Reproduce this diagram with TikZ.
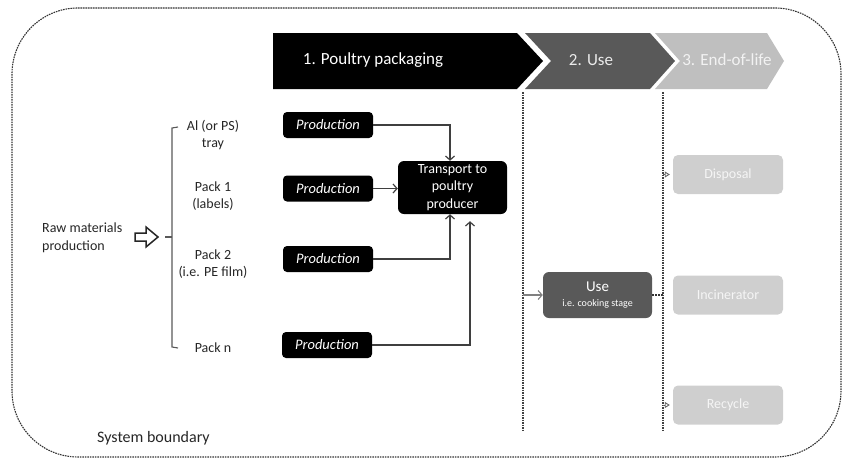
\documentclass[tikz,border=0pt]{standalone}
\usepackage{fontspec}
\setmainfont{Carlito}
\usetikzlibrary{arrows.meta}
\definecolor{dgray}{HTML}{595959}
\definecolor{lgray}{HTML}{BFBFBF}
\definecolor{bgray}{HTML}{CFCFCF}
\definecolor{lnc}{HTML}{3F3F3F}
\begin{document}
\begin{tikzpicture}[x=1pt,y=-1pt,
  every node/.style={font=\fontsize{14}{17.5}\selectfont, inner sep=0pt},
  bnd/.style={draw=black!80, line width=1.1pt, dash pattern=on 1.6pt off 0.9pt},
  vdash/.style={draw=black!75, line width=1.1pt, dash pattern=on 1.6pt off 0.9pt},
  chevtxt/.style={font=\fontsize{17}{20}\selectfont},
  prodbox/.style={fill=black, text=white, rounded corners=4pt, minimum width=90pt, minimum height=26pt, font=\fontsize{14.5}{17.5}\selectfont\itshape},
  trbox/.style={fill=black, text=white, rounded corners=6pt, minimum width=109pt, minimum height=53pt, align=center},
  usebox/.style={fill=dgray, text=white, rounded corners=6pt, minimum width=109pt, minimum height=46pt, align=center},
  eolbox/.style={fill=bgray, text=white!96!black, rounded corners=5pt, minimum width=110pt, minimum height=39pt},
  lbl/.style={align=center, text=black!85},
  arr/.style={draw=lnc, line width=1.2pt, -{Straight Barb[length=4pt,width=9pt]}},
  garr/.style={draw=black!50, line width=1.1pt, -{Straight Barb[length=4pt,width=9pt]}},
  sarr/.style={draw=black!60, line width=0.9pt, -{Triangle[open,length=5pt,width=6pt]}, shorten >=3pt},
]
\useasboundingbox (0,0) rectangle (844,461);
% system boundary
\draw[bnd, rounded corners=66pt] (12,8) rectangle (841,457);
\node[anchor=west, font=\fontsize{16}{19}\selectfont, text=black!85] (sb) at (97,438) {System boundary};

% chevrons
\fill[black] (273,33) -- (517,33) -- (543,61) -- (517,89) -- (273,89) -- cycle;
\fill[dgray] (525,33) -- (650,33) -- (675,61) -- (650,89) -- (525,89) -- (551,61) -- cycle;
\fill[lgray] (655,33) -- (767,33) -- (784,61) -- (767,89) -- (655,89) -- (680,61) -- cycle;
\node[chevtxt, text=white] (c1) at (373,60) {1. Poultry packaging};
\node[chevtxt, text=white!92!black] (c2) at (591,60) {2. Use};
\node[chevtxt, text=white!95!black] (c3) at (727,60) {3. End-of-life};

% vertical dashed lines
\draw[vdash] (523,92) -- (523,431);
\draw[vdash] (663,92) -- (663,431);

% raw materials
\node[anchor=west, align=left, text=black!85] (raw) at (42,238) {Raw materials\\production};
\draw[draw=black!85, line width=1.5pt, line join=miter]
  (135,233) -- (146,233) -- (146,227) -- (158,237) -- (146,247) -- (146,241) -- (135,241) -- cycle;
\draw[draw=dgray, line width=1.1pt] (165,237) -- (172,237);
\draw[draw=dgray, line width=1.1pt] (178,127) -- (172,128) -- (172,347) -- (178,348);

% labels
\node[lbl] (l1) at (213,135) {Al (or PS)\\tray};
\node[lbl] (l2) at (213,196) {Pack 1\\(labels)};
\node[lbl] (l3) at (213,264) {Pack 2\\(i.e. PE film)};
\node[lbl] (l4) at (213,348) {Pack n};

% production boxes
\node[prodbox] (p1) at (328,125) {Production};
\node[prodbox] (p2) at (328,188.5) {Production};
\node[prodbox] (p3) at (328,259) {Production};
\node[prodbox] (p4) at (327,345) {Production};
\node[trbox] (tr) at (452.5,187.5) {Transport to\\poultry\\producer};

\draw[arr] (p1.east) -| ([xshift=-2.5pt]tr.north);
\draw[arr] (p2.east) -- (p2.east -| tr.west);
\draw[arr] (p3.east) -| ([xshift=-2.5pt]tr.south);
\draw[arr] (p4.east) -| ([xshift=17.5pt,yshift=-7pt]tr.south);

% use
\node[usebox] (use) at (597.5,295) {{\fontsize{15}{17}\selectfont Use}\\[-3pt]{\fontsize{10}{12}\selectfont i.e. cooking stage}};
\coordinate (uin) at (523,295);
\coordinate (uout) at (663,295);
\draw[garr] (uin) -- (use.west);
\draw[draw=black!80, line width=1.1pt, dash pattern=on 2pt off 1pt] (use.east) -- (uout);

% end of life
\node[eolbox] (disp) at (728,174.5) {Disposal};
\node[eolbox] (inc) at (728,295) {Incinerator};
\node[eolbox] (rec) at (728,405) {Recycle};
\coordinate (jd) at (663,174.5);
\coordinate (jr) at (663,405);
\draw[sarr] (jd) -- (disp.west);
\draw[sarr] (jr) -- (rec.west);
\end{tikzpicture}
\end{document}
